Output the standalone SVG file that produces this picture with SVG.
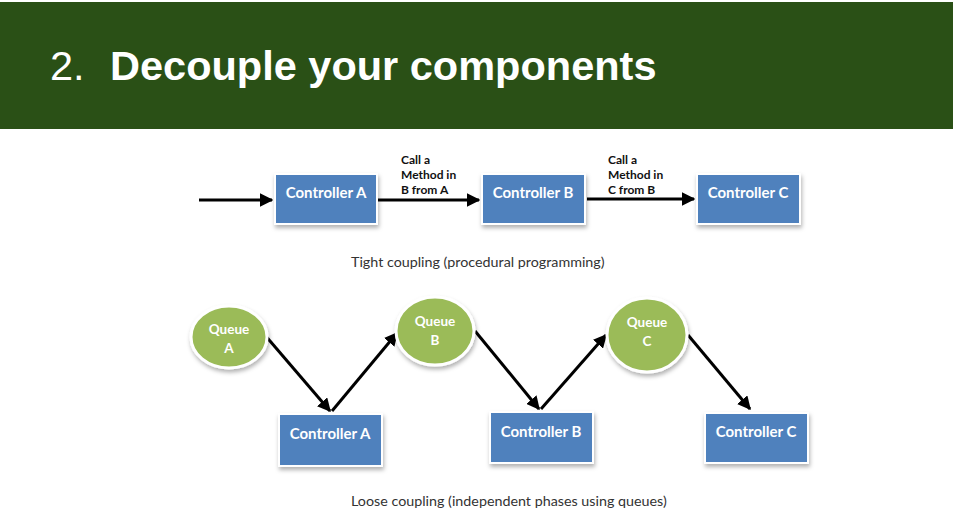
<svg xmlns="http://www.w3.org/2000/svg" width="959" height="512" viewBox="0 0 959 512">
<style>
.box{fill:#4f81bd;stroke:#ffffff;stroke-width:2;filter:url(#sh)}
.q{fill:#9bbb59;stroke:#ffffff;stroke-width:3;filter:url(#sh)}
.nt{font-family:Lato,"Liberation Sans",sans-serif;font-weight:bold;font-size:15px;fill:#ffffff;text-anchor:middle}
.qt{font-family:Lato,"Liberation Sans",sans-serif;font-weight:bold;font-size:13.5px;fill:#ffffff;text-anchor:middle}
.lbl{font-family:Lato,"Liberation Sans",sans-serif;font-weight:bold;font-size:12px;fill:#111111}
.cap{font-family:Lato,"Liberation Sans",sans-serif;font-size:14.3px;fill:#333333}
.ar{stroke:#000000;stroke-width:3;fill:none;marker-end:url(#ah)}
</style>
<defs>
<marker id="ah" viewBox="0 0 10 10" refX="9" refY="5" markerWidth="4.5" markerHeight="4.5" orient="auto" markerUnits="strokeWidth">
<path d="M0,0 L10,5 L0,10 z" fill="#000000"/>
</marker>
<filter id="sh" x="-20%" y="-20%" width="140%" height="150%">
<feDropShadow dx="1" dy="3" stdDeviation="2" flood-color="#000000" flood-opacity="0.3"/>
</filter>
</defs>
<rect x="0" y="0" width="959" height="512" fill="#ffffff"/>
<rect x="0" y="2" width="953" height="127" fill="#2a5016"/>
<text x="50" y="80" font-family="Liberation Sans,Arial,sans-serif" font-size="41.5" fill="#ffffff">2.</text>
<text x="110" y="80" font-family="Liberation Sans,Arial,sans-serif" font-size="41.5" font-weight="bold" fill="#ffffff">Decouple your components</text>

<g id="connectors">
<line class="ar" x1="199" y1="200" x2="272" y2="200"/>
<line class="ar" x1="378" y1="200" x2="479" y2="200"/>
<line class="ar" x1="587" y1="199" x2="694" y2="199"/>
<line class="ar" x1="264" y1="334" x2="330" y2="411"/>
<line class="ar" x1="332" y1="411" x2="397" y2="333"/>
<line class="ar" x1="475" y1="331" x2="539" y2="409"/>
<line class="ar" x1="541" y1="409" x2="606" y2="335"/>
<line class="ar" x1="688" y1="335" x2="750" y2="409"/>
</g>

<g id="lbl1">
<text class="lbl" x="401" y="164">Call  a</text>
<text class="lbl" x="401" y="179">Method in</text>
<text class="lbl" x="401" y="194">B from A</text>
</g>
<g id="lbl2">
<text class="lbl" x="608" y="164">Call a</text>
<text class="lbl" x="608" y="179">Method in</text>
<text class="lbl" x="608" y="194">C from B</text>
</g>

<g id="tcA"><rect class="box" x="275" y="174" width="102" height="50"/><text class="nt" x="326" y="198">Controller A</text></g>
<g id="tcB"><rect class="box" x="482" y="174" width="103" height="50"/><text class="nt" x="533" y="198">Controller B</text></g>
<g id="tcC"><rect class="box" x="697" y="174" width="103" height="50"/><text class="nt" x="748" y="198">Controller C</text></g>

<text class="cap" x="351" y="267">Tight coupling (procedural programming)</text>

<g id="qA"><ellipse class="q" cx="229" cy="337" rx="38" ry="31"/><text class="qt" x="229" y="334">Queue</text><text class="qt" x="229" y="353">A</text></g>
<g id="qB"><ellipse class="q" cx="435" cy="331" rx="39" ry="34"/><text class="qt" x="435" y="326">Queue</text><text class="qt" x="435" y="345">B</text></g>
<g id="qC"><ellipse class="q" cx="647" cy="335" rx="40" ry="37"/><text class="qt" x="647" y="327">Queue</text><text class="qt" x="647" y="346">C</text></g>

<g id="lcA"><rect class="box" x="279" y="414" width="103" height="52"/><text class="nt" x="330" y="439">Controller A</text></g>
<g id="lcB"><rect class="box" x="490" y="412" width="103" height="51"/><text class="nt" x="541" y="437">Controller B</text></g>
<g id="lcC"><rect class="box" x="705" y="413" width="103" height="50"/><text class="nt" x="756" y="437">Controller C</text></g>

<text class="cap" x="351" y="506">Loose coupling (independent phases using queues)</text>
</svg>
